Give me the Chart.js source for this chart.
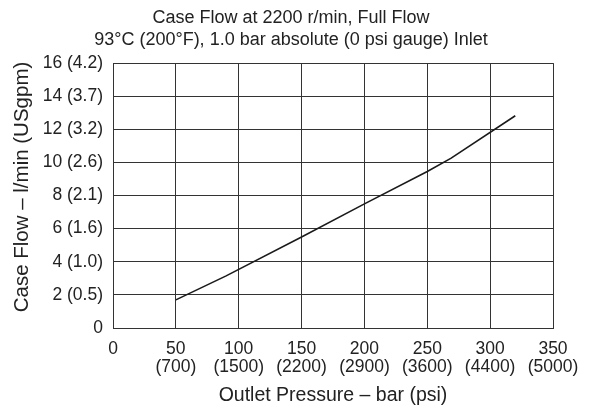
<!DOCTYPE html>
<html>
<head>
<meta charset="utf-8">
<script src="https://cdn.jsdelivr.net/npm/chart.js@4.4.1/dist/chart.umd.min.js"></script>
<style>
  html, body { margin: 0; padding: 0; background: #fff; }
  #wrap { width: 593px; height: 410px; }
</style>
</head>
<body>
<div id="wrap"><canvas id="chart" width="593" height="410"></canvas></div>
<script>
// outlet pressure (bar) vs case flow (l/min)
const pressureBar = [50, 90, 150, 200, 250, 269, 320];
const caseFlow = [1.7, 3.15, 5.5, 7.5, 9.45, 10.26, 12.82];

const xTicks = [0, 50, 100, 150, 200, 250, 300, 350];
const xPsi = ['', '(700)', '(1500)', '(2200)', '(2900)', '(3600)', '(4400)', '(5000)'];
const yTicks = [0, 2, 4, 6, 8, 10, 12, 14, 16];
const yGpm = ['', '(0.5)', '(1.0)', '(1.6)', '(2.1)', '(2.6)', '(3.2)', '(3.7)', '(4.2)'];

const txt = '#222';
const fam = 'Liberation Sans, Arial, sans-serif';
const font = { family: fam, size: 17.5, lineHeight: 1.2 };

const pts = pressureBar.map((p, i) => ({ x: p, y: caseFlow[i] }));

new Chart(document.getElementById('chart').getContext('2d'), {
  type: 'line',
  data: {
    datasets: [{
      data: pts,
      borderColor: '#1a1a1a',
      borderWidth: 1.6,
      pointRadius: 0,
      tension: 0,
      fill: false
    }]
  },
  options: {
    responsive: false,
    animation: false,
    layout: { padding: { left: 29, right: 40, top: 0, bottom: 3 } },
    plugins: {
      legend: { display: false },
      tooltip: { enabled: false },
      title: {
        display: true,
        text: ['Case Flow at 2200 r/min, Full Flow', '93\u00B0C (200\u00B0F), 1.0 bar absolute (0 psi gauge) Inlet'],
        color: txt,
        font: { family: fam, size: 18, weight: 'normal', lineHeight: 1.17 },
        padding: { top: 8, bottom: 13 }
      }
    },
    scales: {
      x: {
        type: 'linear',
        min: 0,
        max: 350,
        afterBuildTicks: s => { s.ticks = xTicks.map(v => ({ value: v })); },
        afterFit: s => { s.height = 410 - 328 - 3; },
        ticks: {
          color: txt,
          font: { family: fam, size: 17.5, lineHeight: 1.05 },
          padding: 12,
          maxRotation: 0,
          autoSkip: false,
          callback: v => {
            const i = xTicks.indexOf(v);
            return xPsi[i] ? [String(v), xPsi[i]] : String(v);
          }
        },
        grid: { color: '#333', lineWidth: 1, drawTicks: false },
        border: { color: '#333' },
        title: {
          display: true,
          text: 'Outlet Pressure \u2013 bar (psi)',
          color: txt,
          font: { family: fam, size: 19.5, lineHeight: 1.2 },
          padding: { top: 4, bottom: 0 }
        }
      },
      y: {
        min: 0,
        max: 16,
        afterBuildTicks: s => { s.ticks = yTicks.map(v => ({ value: v })); },
        afterFit: s => { s.width = 113 - 29; },
        ticks: {
          color: txt,
          font: font,
          padding: 10,
          callback: v => {
            const i = yTicks.indexOf(v);
            return yGpm[i] ? v + ' ' + yGpm[i] : String(v);
          }
        },
        grid: { color: '#333', lineWidth: 1, drawTicks: false },
        border: { color: '#333' },
        title: {
          display: true,
          // leading spaces nudge the rotated title up a little
          text: '\u00A0\u00A0\u00A0Case Flow \u2013 l/min (USgpm)',
          color: txt,
          font: { family: fam, size: 20.5, lineHeight: 1.2 },
          padding: { top: -19, bottom: 0 }
        }
      }
    }
  }
});
</script>
</body>
</html>
